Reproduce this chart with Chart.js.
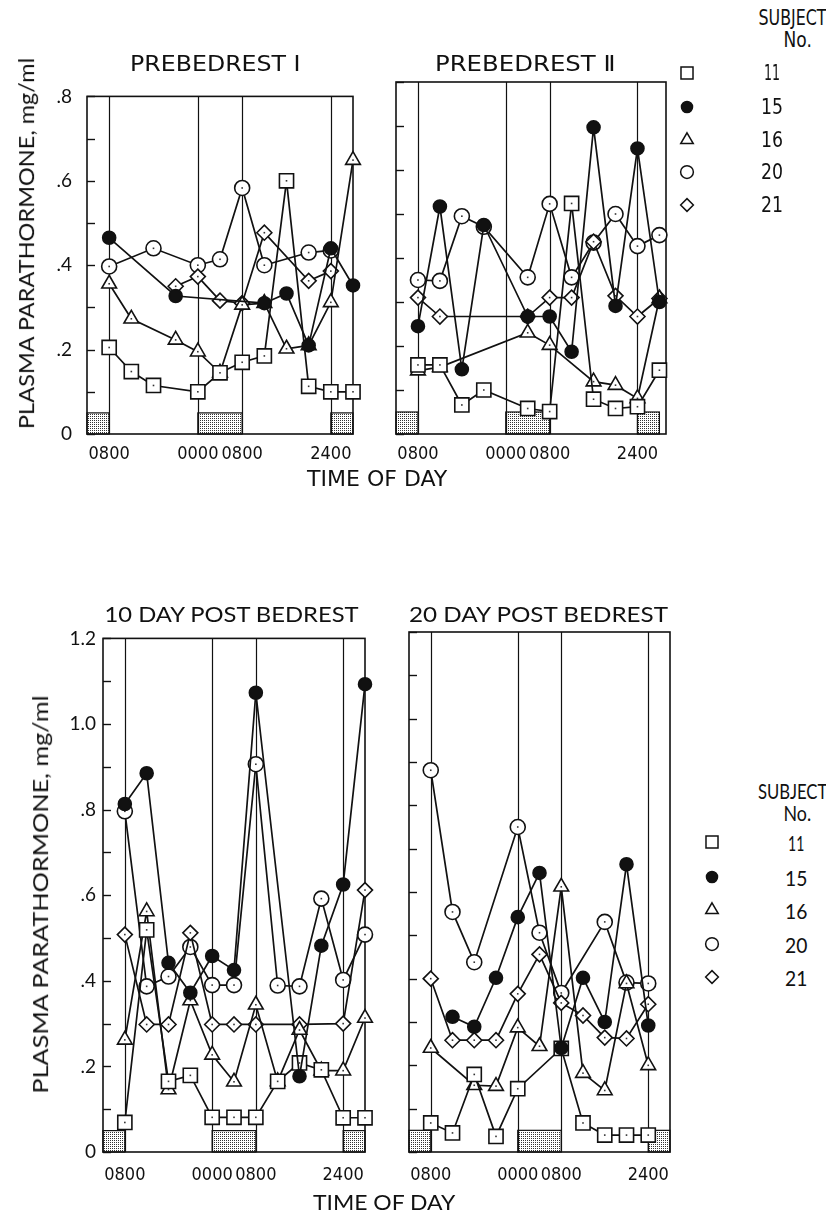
<!DOCTYPE html>
<html>
<head>
<meta charset="utf-8">
<script src="https://cdn.jsdelivr.net/npm/chart.js@4.4.0/dist/chart.umd.min.js"></script>
<style>
  html, body { margin: 0; padding: 0; background: #fff; }
  #page { position: relative; width: 826px; height: 1215px; overflow: hidden; background: #fff; }
  #page canvas { position: absolute; }
  .t { position: absolute; white-space: nowrap; color: #111; line-height: 1; }
</style>
</head>
<body>
<div id="page"></div>
<script>
// Sampling clock (hours from midnight of day 1) shared by every series
const HOURS = [8, 12, 16, 20, 24, 28, 32, 36, 40, 44, 48, 52];
const SUBJECTS = ['11', '15', '16', '20', '21'];
const TITLES = ['PREBEDREST I', 'PREBEDREST \u2161', '10 DAY POST BEDREST', '20 DAY POST BEDREST'];
const TIME_TICKS = [8, 24, 32, 48];
const TIME_LABELS = ['0800', '0000', '0800', '2400'];
const NIGHT_START = [4, 24, 48];
const NIGHT_END = [8, 32, 52];

// Plasma parathormone, mg/ml — PREBEDREST I
const pre1_11 = [0.205, 0.148, 0.115, null, 0.100, 0.145, 0.170, 0.185, 0.600, 0.113, 0.100, 0.100];
const pre1_15 = [0.465, null, null, 0.327, null, null, null, 0.310, 0.333, 0.210, 0.440, 0.352];
const pre1_16 = [0.356, 0.273, null, 0.223, 0.195, 0.145, 0.306, 0.310, 0.202, 0.210, 0.312, 0.649];
const pre1_20 = [0.397, null, 0.440, null, 0.400, 0.414, 0.583, 0.400, null, 0.430, 0.435, null];
const pre1_21 = [null, null, null, 0.350, 0.373, 0.316, 0.310, 0.477, null, 0.363, 0.386, null];

// PREBEDREST II
const pre2_11 = [0.157, 0.157, 0.066, 0.100, null, 0.058, 0.051, 0.524, 0.079, 0.058, 0.062, 0.145];
const pre2_15 = [0.245, 0.517, 0.147, 0.475, null, 0.267, 0.267, 0.187, 0.697, 0.291, 0.649, 0.300];
const pre2_16 = [0.144, 0.152, null, null, null, 0.230, 0.202, null, 0.119, 0.111, 0.081, 0.308];
const pre2_20 = [0.350, 0.348, 0.495, 0.471, null, 0.356, 0.523, 0.356, 0.435, 0.500, 0.427, 0.452];
const pre2_21 = [0.310, 0.267, null, null, null, 0.267, 0.310, 0.310, 0.437, 0.314, 0.267, 0.308];

// 10 DAY POST BEDREST
const post10_11 = [0.069, 0.519, 0.165, 0.179, 0.081, 0.081, 0.081, 0.165, 0.208, 0.192, 0.080, 0.080];
const post10_15 = [0.813, 0.885, 0.442, 0.372, 0.458, 0.425, 1.073, null, 0.177, 0.482, 0.625, 1.093];
const post10_16 = [0.262, 0.562, 0.146, 0.354, 0.227, 0.164, 0.344, 0.165, 0.285, 0.190, 0.190, 0.313];
const post10_20 = [0.796, 0.387, 0.410, 0.479, 0.390, 0.390, 0.906, 0.389, 0.387, 0.592, 0.402, 0.508];
const post10_21 = [0.508, 0.298, 0.298, 0.512, 0.298, 0.298, 0.298, null, 0.298, null, 0.300, 0.612];

// 20 DAY POST BEDREST
const post20_11 = [0.067, 0.044, 0.179, 0.036, 0.146, null, 0.239, 0.067, 0.039, 0.039, 0.039, null];
const post20_15 = [null, 0.312, 0.289, 0.402, 0.542, 0.644, 0.240, 0.402, 0.300, 0.664, 0.292, null];
const post20_16 = [0.240, null, 0.154, 0.152, 0.287, 0.244, 0.612, 0.182, 0.142, 0.389, 0.200, null];
const post20_20 = [0.881, 0.554, 0.438, null, 0.750, 0.506, 0.367, null, 0.531, 0.391, 0.389, null];
const post20_21 = [0.400, 0.258, 0.258, 0.258, 0.365, 0.456, 0.344, 0.315, 0.264, 0.262, 0.341, null];

const page = document.getElementById('page');
const INK = '#111';
const COND = '"DejaVu Sans Condensed", "Liberation Sans Narrow", "DejaVu Sans", sans-serif';
const ROUND = 'Lato, "DejaVu Sans", sans-serif';

// marker look per subject: [pointStyle, radius, fill]
const MARKERS = {
  '11': ['rect', 10, '#fff'],
  '15': ['circle', 6.5, INK],
  '16': ['triangle', 8.5, '#fff'],
  '20': ['circle', 7.5, '#fff'],
  '21': ['rectRot', 7.5, '#fff']
};
// drawing order: first entry ends up on top
const DRAW_ORDER = ['15', '11', '16', '21', '20'];

function stipple(ctx) {
  const c = document.createElement('canvas');
  c.width = 2; c.height = 2;
  const g = c.getContext('2d');
  g.fillStyle = '#fff'; g.fillRect(0, 0, 2, 2);
  g.fillStyle = '#333';
  g.fillRect(0, 0, 1, 1);
  return ctx.createPattern(c, 'repeat');
}

// night bands, clock lines, inward ticks and the frame
const framePlugin = {
  id: 'frame',
  beforeDatasetsDraw(chart) {
    const { ctx, chartArea: a, scales: { x, y } } = chart;
    ctx.save();
    ctx.strokeStyle = INK;
    ctx.lineWidth = 1.2;
    const pat = stipple(ctx);
    const yb = y.getPixelForValue(0), yt = y.getPixelForValue(0.05);
    NIGHT_START.forEach((s, i) => {
      const x0 = x.getPixelForValue(s), x1 = x.getPixelForValue(NIGHT_END[i]);
      ctx.fillStyle = pat;
      ctx.fillRect(x0, yt, x1 - x0, yb - yt);
      ctx.strokeRect(x0, yt, x1 - x0, yb - yt);
    });
    TIME_TICKS.forEach(h => {
      const px = Math.round(x.getPixelForValue(h)) + 0.5;
      ctx.beginPath(); ctx.moveTo(px, a.top); ctx.lineTo(px, a.bottom); ctx.stroke();
    });
    ctx.lineWidth = 1.4;
    y.ticks.forEach(t => {
      const py = Math.round(y.getPixelForValue(t.value)) + 0.5;
      ctx.beginPath(); ctx.moveTo(a.left, py); ctx.lineTo(a.left + 8, py); ctx.stroke();
    });
    ctx.lineWidth = 1.6;
    ctx.strokeRect(a.left, a.top, a.width, a.height);
    ctx.restore();
  },
  afterDatasetDraw(chart, args) {
    const ds = chart.data.datasets[args.index];
    if (!ds.centerDot) return;
    const ctx = chart.ctx;
    ctx.save();
    ctx.fillStyle = '#333';
    args.meta.data.forEach(p => {
      if (p.skip) return;
      ctx.fillRect(p.x - 0.8, p.y - 0.8, 1.6, 1.6);
    });
    ctx.restore();
  }
};

function yLabel(v) {
  const k = Math.round(v * 10);
  if (k % 2 !== 0) return '';
  if (k === 0) return '0';
  if (k < 10) return '.' + k;
  return (k / 10).toFixed(1);
}

function makePanel(p) {
  const cv = document.createElement('canvas');
  cv.width = p.cw; cv.height = p.ch;
  cv.style.left = p.cx + 'px'; cv.style.top = p.cy + 'px';
  cv.style.width = p.cw + 'px'; cv.style.height = p.ch + 'px';
  page.appendChild(cv);

  const datasets = DRAW_ORDER.map(id => {
    const [style, r, fill] = MARKERS[id];
    const vals = p.series[id];
    const ds = {
      label: id,
      data: HOURS.map((h, i) => ({ x: h, y: vals[i] })),
      borderColor: INK,
      borderWidth: 1.7,
      pointStyle: style,
      pointRadius: r,
      pointBackgroundColor: fill,
      pointBorderColor: INK,
      pointBorderWidth: 1.6,
      spanGaps: true,
      tension: 0,
      clip: false,
      fill: false,
      centerDot: fill !== INK
    };
    if (p.dashed && p.dashed[id]) {
      const [i0, i1] = p.dashed[id];
      ds.segment = { borderDash: c => (c.p0DataIndex === i0 && c.p1DataIndex === i1) ? [7, 5] : undefined };
    }
    return ds;
  });

  new Chart(cv, {
    type: 'line',
    data: { datasets },
    options: {
      responsive: false,
      animation: false,
      devicePixelRatio: 1,
      layout: { padding: { top: p.area.top - p.cy, right: p.cx + p.cw - p.area.right, left: 0, bottom: 0 } },
      plugins: { legend: { display: false }, tooltip: { enabled: false } },
      scales: {
        x: {
          type: 'linear', min: 4, max: p.xmax,
          grid: { display: false, drawTicks: false },
          border: { display: false },
          afterBuildTicks: s => { s.ticks = TIME_TICKS.map(v => ({ value: v })); },
          afterFit: s => { s.height = p.cy + p.ch - p.area.bottom; },
          ticks: {
            autoSkip: false, maxRotation: 0, minRotation: 0,
            padding: p.xPad, color: INK,
            font: { family: COND, size: 18 },
            callback: (v, i) => TIME_LABELS[i]
          }
        },
        y: {
          type: 'linear', min: 0, max: p.ymax,
          grid: { display: false, drawTicks: false },
          border: { display: false },
          afterFit: s => { s.width = p.area.left - p.cx; },
          ticks: {
            stepSize: 0.1, display: p.yLabels, padding: p.yPad, color: INK,
            font: { family: ROUND, size: 19 },
            callback: v => yLabel(v)
          }
        }
      }
    },
    plugins: [framePlugin]
  });
}

makePanel({
  cx: 30, cy: 70, cw: 340, ch: 400,
  area: { left: 87, top: 82, right: 353, bottom: 434 },
  xmax: 52, ymax: 0.8, yLabels: true, yPad: 15, xPad: 10,
  series: { '11': pre1_11, '15': pre1_15, '16': pre1_16, '20': pre1_20, '21': pre1_21 }
});
makePanel({
  cx: 380, cy: 70, cw: 300, ch: 400,
  area: { left: 396, top: 82, right: 666, bottom: 434 },
  xmax: 53.2, ymax: 0.8, yLabels: false, yPad: 0, xPad: 10,
  series: { '11': pre2_11, '15': pre2_15, '16': pre2_16, '20': pre2_20, '21': pre2_21 },
  dashed: { '21': [1, 5] }
});
makePanel({
  cx: 40, cy: 620, cw: 340, ch: 570,
  area: { left: 103, top: 632, right: 365, bottom: 1152 },
  xmax: 52, ymax: 1.2, yLabels: true, yPad: 7, xPad: 13,
  series: { '11': post10_11, '15': post10_15, '16': post10_16, '20': post10_20, '21': post10_21 }
});
makePanel({
  cx: 395, cy: 620, cw: 290, ch: 570,
  area: { left: 409, top: 632, right: 670, bottom: 1152 },
  xmax: 52, ymax: 1.2, yLabels: false, yPad: 0, xPad: 13,
  series: { '11': post20_11, '15': post20_15, '16': post20_16, '20': post20_20, '21': post20_21 }
});

// free text: centred at (cx, cy), stretched to width w
function putText(str, cx, cy, w, size, family, rot) {
  const el = document.createElement('div');
  el.className = 't';
  el.textContent = str;
  el.style.font = size + 'px ' + family;
  page.appendChild(el);
  const nw = el.offsetWidth, nh = el.offsetHeight;
  el.style.left = (cx - nw / 2) + 'px';
  el.style.top = (cy - nh / 2) + 'px';
  el.style.transformOrigin = '50% 50%';
  const sx = w ? w / nw : 1;
  el.style.transform = (rot ? 'rotate(' + rot + 'deg) ' : '') + 'scaleX(' + sx + ')';
}

putText(TITLES[0], 215, 63, 171, 22, COND);
putText(TITLES[1], 525, 63, 180, 22, COND);
putText(TITLES[2], 231, 613, 254, 22, ROUND);
putText(TITLES[3], 538, 613, 259, 22, ROUND);

putText('TIME OF DAY', 377, 479, 140, 21, COND);
putText('TIME OF DAY', 384, 1201, 142, 21, ROUND);

putText('PLASMA PARATHORMONE, mg/ml', 25, 243, 371, 22, ROUND, -90);
putText('PLASMA PARATHORMONE, mg/ml', 39, 894, 398, 22, ROUND, -90);

// subject key symbols, drawn with the library's own point painter
function keySymbol(id, cx, cy) {
  const c = document.createElement('canvas');
  c.width = 24; c.height = 24;
  c.style.left = (cx - 12) + 'px'; c.style.top = (cy - 12) + 'px';
  c.style.width = '24px'; c.style.height = '24px';
  page.appendChild(c);
  const g = c.getContext('2d');
  const [style, r, fill] = MARKERS[id];
  g.fillStyle = fill;
  g.strokeStyle = INK;
  g.lineWidth = 1.5;
  Chart.helpers.drawPoint(g, { pointStyle: style, radius: r * 0.85, borderWidth: 1.5, rotation: 0 }, 12, 12);
}

function subjectKey(symX, numX, rows, headY, headW, family) {
  putText('SUBJECT', 792, headY, headW, 21, family);
  putText('No.', 797, headY + 22, 28, 21, family);
  SUBJECTS.forEach((s, i) => {
    keySymbol(s, symX, rows[i]);
    putText(s, numX, rows[i], s === '11' ? 16 : 22, 21, family);
  });
}
subjectKey(687, 772, [73, 107, 140, 172, 205], 18, 68, COND);
subjectKey(712, 796, [842, 877, 910, 944, 977], 790, 69, ROUND);
</script>
</body>
</html>
